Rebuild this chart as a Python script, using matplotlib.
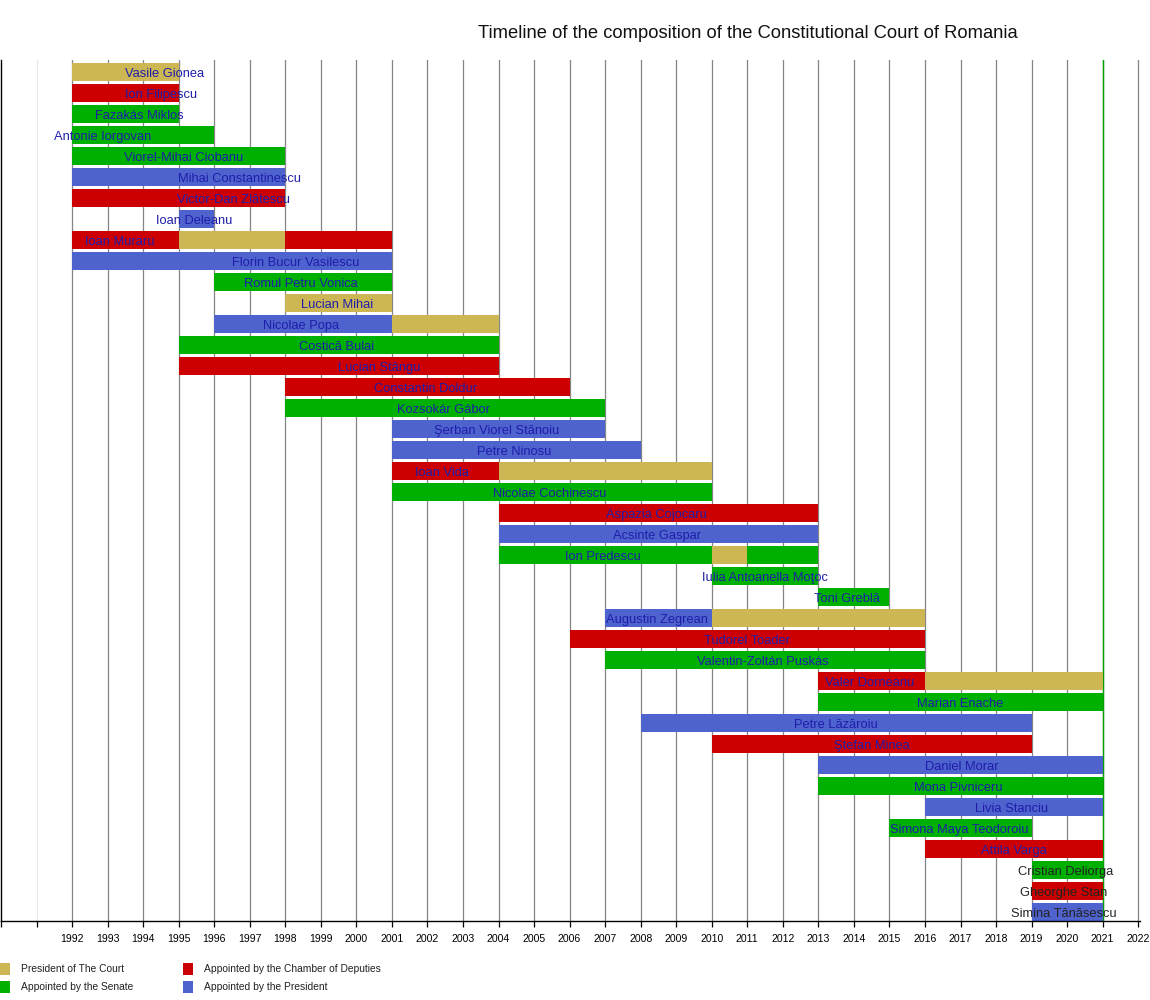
import matplotlib.pyplot as plt
from matplotlib.patches import Rectangle

plt.rcParams['font.family'] = ['Liberation Sans', 'DejaVu Sans']

# term colours
colors = {
    "pres": "#CCB754",   # President of The Court
    "sen": "#00B000",    # Appointed by the Senate
    "dep": "#CC0000",    # Appointed by the Chamber of Deputies
    "prz": "#4F63CF",    # Appointed by the President
}

names = [
    "Vasile Gionea", "Ion Filipescu", "Fazakás Miklos", "Antonie Iorgovan",
    "Viorel-Mihai Ciobanu", "Mihai Constantinescu", "Victor-Dan Zlătescu",
    "Ioan Deleanu", "Ioan Muraru", "Florin Bucur Vasilescu", "Romul Petru Vonica",
    "Lucian Mihai", "Nicolae Popa", "Costică Bulai", "Lucian Stângu",
    "Constantin Doldur", "Kozsokár Gábor", "Şerban Viorel Stănoiu", "Petre Ninosu",
    "Ioan Vida", "Nicolae Cochinescu", "Aspazia Cojocaru", "Acsinte Gaspar",
    "Ion Predescu", "Iulia Antoanella Moţoc", "Toni Greblă", "Augustin Zegrean",
    "Tudorel Toader", "Valentin-Zoltán Puskás", "Valer Dorneanu", "Marian Enache",
    "Petre Lăzăroiu", "Ştefan Minea", "Daniel Morar", "Mona Pivniceru",
    "Livia Stanciu", "Simona Maya Teodoroiu", "Attila Varga", "Cristian Deliorga",
    "Gheorghe Stan", "Simina Tănăsescu",
]

# (start, end, kind) per member
terms = [
    [(1992, 1995, "pres")],
    [(1992, 1995, "dep")],
    [(1992, 1995, "sen")],
    [(1992, 1996, "sen")],
    [(1992, 1998, "sen")],
    [(1992, 1998, "prz")],
    [(1992, 1998, "dep")],
    [(1995, 1996, "prz")],
    [(1992, 1995, "dep"), (1995, 1998, "pres"), (1998, 2001, "dep")],
    [(1992, 2001, "prz")],
    [(1996, 2001, "sen")],
    [(1998, 2001, "pres")],
    [(1996, 2001, "prz"), (2001, 2004, "pres")],
    [(1995, 2004, "sen")],
    [(1995, 2004, "dep")],
    [(1998, 2006, "dep")],
    [(1998, 2007, "sen")],
    [(2001, 2007, "prz")],
    [(2001, 2008, "prz")],
    [(2001, 2004, "dep"), (2004, 2010, "pres")],
    [(2001, 2010, "sen")],
    [(2004, 2013, "dep")],
    [(2004, 2013, "prz")],
    [(2004, 2010, "sen"), (2010, 2011, "pres"), (2011, 2013, "sen")],
    [(2010, 2013, "sen")],
    [(2013, 2015, "sen")],
    [(2007, 2010, "prz"), (2010, 2016, "pres")],
    [(2006, 2016, "dep")],
    [(2007, 2016, "sen")],
    [(2013, 2016, "dep"), (2016, 2021, "pres")],
    [(2013, 2021, "sen")],
    [(2008, 2019, "prz")],
    [(2010, 2019, "dep")],
    [(2013, 2021, "prz")],
    [(2013, 2021, "sen")],
    [(2016, 2021, "prz")],
    [(2015, 2019, "sen")],
    [(2016, 2021, "dep")],
    [(2019, 2021, "sen")],
    [(2019, 2021, "dep")],
    [(2019, 2021, "prz")],
]

# where each name label is centred (in years)
label_years = [
    1994.6, 1994.5, 1993.9, 1992.85, 1995.15, 1996.7, 1996.55, 1995.45,
    1993.35, 1998.3, 1998.45, 1999.45, 1998.45, 1999.45, 2000.65, 2001.95,
    2002.45, 2003.95, 2004.45, 2002.4, 2005.45, 2008.45, 2008.45, 2006.95,
    2011.5, 2013.8, 2008.45, 2011.0, 2011.45, 2014.45, 2017.0, 2013.5,
    2014.5, 2017.05, 2016.95, 2018.45, 2016.95, 2018.5, 2019.95, 2019.9,
    2019.9,
]
# the three newest members are labelled in black
dark_labels = ["Cristian Deliorga", "Gheorghe Stan", "Simina Tănăsescu"]

years = list(range(1990, 2023))
year_labels = ["" if y < 1992 else str(y) for y in years]

legend_items = [
    ("President of The Court", "pres"),
    ("Appointed by the Senate", "sen"),
    ("Appointed by the Chamber of Deputies", "dep"),
    ("Appointed by the President", "prz"),
]

fig = plt.figure(figsize=(11.5, 10), dpi=100)
ax = fig.add_axes([1 / 1150, 0.079, 1139 / 1150, 0.861])

n = len(names)
for i, segs in enumerate(terms):
    for start, end, kind in segs:
        ax.barh(i, end - start, left=start, height=0.86,
                color=colors[kind], zorder=2, linewidth=0)
    tc = "#222222" if names[i] in dark_labels else "#1E1EAA"
    ax.text(label_years[i], i + 0.09, names[i], ha="center", va="center",
            fontsize=9.3, color=tc, zorder=3)

# year grid
ax.axvline(1991, color="#e8e8e8", lw=0.9, zorder=1)
for y in years[2:]:
    ax.axvline(y, color="#858585", lw=0.9, zorder=1)
ax.axvline(2021, color="#00A000", lw=1.0, zorder=1.5)

ax.set_xlim(1990, 2022.05)
ax.set_ylim(n - 0.57, -0.57)
ax.set_xticks(years)
ax.set_xticklabels(year_labels, fontsize=7.6)
ax.tick_params(axis="x", direction="out", length=4, width=0.9, pad=5)
ax.set_yticks([])
for s in ["top", "right"]:
    ax.spines[s].set_visible(False)
ax.spines["left"].set_linewidth(1.0)
ax.spines["bottom"].set_linewidth(1.0)

fig.text(0.65, 0.967, "Timeline of the composition of the Constitutional Court of Romania",
         ha="center", va="center", fontsize=13.2, color="#111111")

# legend drawn by hand, two columns of two
col_x = [0.0, 183 / 1150]
row_y = [1 - 975 / 1000, 1 - 993 / 1000]
for k, (label, kind) in enumerate(legend_items):
    cx = col_x[k // 2]
    cy = row_y[k % 2]
    fig.add_artist(Rectangle((cx, cy), 10 / 1150, 12 / 1000, transform=fig.transFigure,
                             color=colors[kind], lw=0))
    fig.text(cx + 21 / 1150, cy + 6 / 1000, label, fontsize=7.4, va="center",
             ha="left", color="#222222")

fig.savefig("out.png", dpi=100)
